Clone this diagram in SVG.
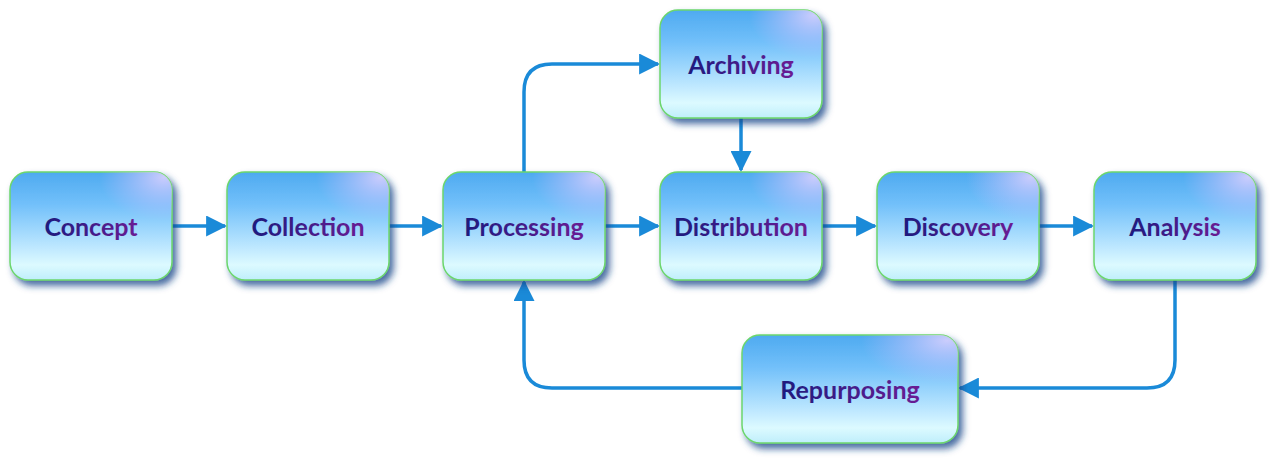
<svg xmlns="http://www.w3.org/2000/svg" width="1275" height="463" viewBox="0 0 1275 463">
<defs>
<linearGradient id="fill" x1="0" y1="0" x2="0" y2="1">
<stop offset="0" stop-color="#4eaaf0"/>
<stop offset="0.3" stop-color="#72c0fa"/>
<stop offset="0.72" stop-color="#c2eaff"/>
<stop offset="0.86" stop-color="#dcfaff"/>
<stop offset="1" stop-color="#bfeefb"/>
</linearGradient>
<radialGradient id="hl" cx="0.95" cy="0.05" r="0.4">
<stop offset="0" stop-color="#e0d2ff" stop-opacity="0.85"/>
<stop offset="1" stop-color="#c8b8ff" stop-opacity="0"/>
</radialGradient>
<linearGradient id="txt" x1="0" y1="0" x2="1" y2="0">
<stop offset="0" stop-color="#1e1a7e"/>
<stop offset="1" stop-color="#6a1c94"/>
</linearGradient>
<filter id="sh" x="-20%" y="-20%" width="150%" height="150%">
<feDropShadow dx="4" dy="5" stdDeviation="3.5" flood-color="#12468a" flood-opacity="0.8"/>
</filter>
<marker id="ah" viewBox="0 0 10 10" refX="9" refY="5" markerWidth="6" markerHeight="6" orient="auto" markerUnits="strokeWidth">
<path d="M0,0 L10,5 L0,10 z" fill="#1a8ad8"/>
</marker>
</defs>
<style>
.box{fill:url(#fill);stroke:#6cd66c;stroke-width:1.5;filter:url(#sh)}
.hl{fill:url(#hl);stroke:none}
.lbl{font-family:Lato,"Open Sans",sans-serif;font-weight:bold;font-size:25px;fill:url(#txt);text-anchor:middle;dominant-baseline:central}
.c{fill:none;stroke:#1a8ad8;stroke-width:3.5;marker-end:url(#ah)}
</style>
<g id="connectors">
<path class="c" d="M172,226 H225"/>
<path class="c" d="M389,226 H441"/>
<path class="c" d="M605,226 H658"/>
<path class="c" d="M822,226 H875"/>
<path class="c" d="M1039,226 H1092"/>
<path class="c" d="M524,172 V92 Q524,64 552,64 H658"/>
<path class="c" d="M741,118 V170"/>
<path class="c" d="M1175,280 V360 Q1175,388 1147,388 H960"/>
<path class="c" d="M742,388 H552 Q524,388 524,360 V282"/>
</g>
<g id="concept"><rect class="box" x="10" y="172" width="162" height="108" rx="18"/><rect class="hl" x="10" y="172" width="162" height="108" rx="18"/><text class="lbl" x="91" y="226">Concept</text></g>
<g id="collection"><rect class="box" x="227" y="172" width="162" height="108" rx="18"/><rect class="hl" x="227" y="172" width="162" height="108" rx="18"/><text class="lbl" x="308" y="226">Collection</text></g>
<g id="processing"><rect class="box" x="443" y="172" width="162" height="108" rx="18"/><rect class="hl" x="443" y="172" width="162" height="108" rx="18"/><text class="lbl" x="524" y="226">Processing</text></g>
<g id="distribution"><rect class="box" x="660" y="172" width="162" height="108" rx="18"/><rect class="hl" x="660" y="172" width="162" height="108" rx="18"/><text class="lbl" x="741" y="226">Distribution</text></g>
<g id="discovery"><rect class="box" x="877" y="172" width="162" height="108" rx="18"/><rect class="hl" x="877" y="172" width="162" height="108" rx="18"/><text class="lbl" x="958" y="226">Discovery</text></g>
<g id="analysis"><rect class="box" x="1094" y="172" width="162" height="108" rx="18"/><rect class="hl" x="1094" y="172" width="162" height="108" rx="18"/><text class="lbl" x="1175" y="226">Analysis</text></g>
<g id="archiving"><rect class="box" x="660" y="10" width="162" height="108" rx="18"/><rect class="hl" x="660" y="10" width="162" height="108" rx="18"/><text class="lbl" x="741" y="64">Archiving</text></g>
<g id="repurposing"><rect class="box" x="742" y="335" width="216" height="108" rx="18"/><rect class="hl" x="742" y="335" width="216" height="108" rx="18"/><text class="lbl" x="850" y="389">Repurposing</text></g>
</svg>
